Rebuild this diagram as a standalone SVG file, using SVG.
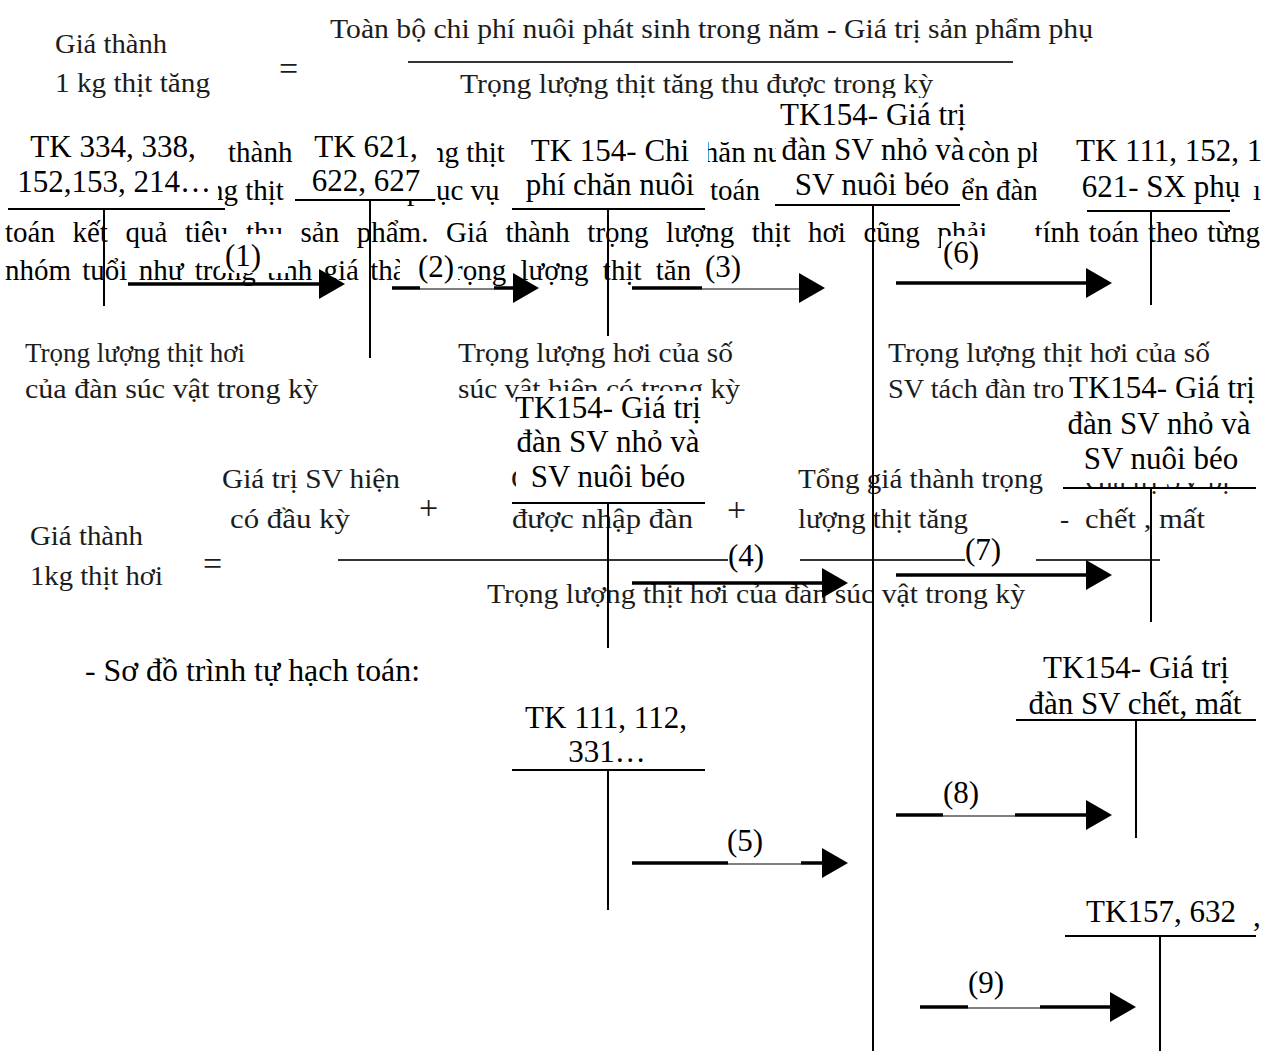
<svg xmlns="http://www.w3.org/2000/svg" width="1265" height="1051" viewBox="0 0 1265 1051">
<style>
text{font-family:"Liberation Serif","Times New Roman",serif;fill:#000}
.fm{font-size:27.5px;fill:#1c1c1c}
.op{font-size:34px;fill:#1c1c1c}
.pa{font-size:29px}
.lb{font-size:31px}
.c{text-anchor:middle}
.e{text-anchor:end}
.fl{stroke:#333;stroke-width:2}
.tl{stroke:#000;stroke-width:2;fill:none}
.ar{stroke:#000;stroke-width:3.5}
.th{stroke:#000;stroke-width:1.2}
.wb{fill:#fff}
.hd{fill:#000}
</style>
<rect width="1265" height="1051" fill="#fff"/>

<g id="formula1">
<text class="fm" x="55" y="53" textLength="112" lengthAdjust="spacingAndGlyphs">Giá thành</text>
<text class="fm" x="55" y="92" textLength="155" lengthAdjust="spacingAndGlyphs">1 kg thịt tăng</text>
<text class="op" x="279" y="80">=</text>
<text class="fm" x="330" y="38" textLength="763" lengthAdjust="spacingAndGlyphs">Toàn bộ chi phí nuôi phát sinh trong năm - Giá trị sản phẩm phụ</text>
<line class="fl" x1="408" y1="62" x2="1013" y2="62"/>
<text class="fm" x="460" y="93" textLength="473" lengthAdjust="spacingAndGlyphs">Trọng lượng thịt tăng thu được trong kỳ</text>
</g>

<g id="paragraph">
<text class="pa" x="228" y="162">thành</text>
<text class="pa" x="430" y="162">ng thịt</text>
<text class="pa" x="691" y="162">chăn nuôi</text>
<text class="pa" x="968" y="162">còn phải</text>
<text class="pa" x="209" y="200">ng thịt</text>
<text class="pa" x="407" y="200">phục vụ</text>
<text class="pa" x="710" y="200">toán</text>
<text class="pa" x="905" y="200">chuyển đàn</text>
<text class="pa" x="1253" y="200">ı</text>
<text class="pa" x="5" y="242" word-spacing="10.3">toán kết quả tiêu thụ sản phẩm. Giá thành trọng lượng thịt hơi cũng phải</text>
<text class="pa e" x="1260" y="242" word-spacing="2">tính toán theo từng</text>
<text class="pa" x="5" y="280" word-spacing="4">nhóm tuổi như trong tính giá thành</text>
<text class="pa" x="445" y="280" word-spacing="7">trọng lượng thịt tăng</text>
</g>

<g id="formula2">
<text class="fm" x="25" y="362" textLength="220" lengthAdjust="spacingAndGlyphs">Trọng lượng thịt hơi</text>
<text class="fm" x="25" y="398" textLength="293" lengthAdjust="spacingAndGlyphs">của đàn súc vật trong kỳ</text>
<text class="fm" x="458" y="362" textLength="275" lengthAdjust="spacingAndGlyphs">Trọng lượng hơi của số</text>
<text class="fm" x="458" y="398" textLength="282" lengthAdjust="spacingAndGlyphs">súc vật hiện có trong kỳ</text>
<text class="fm" x="888" y="362" textLength="322" lengthAdjust="spacingAndGlyphs">Trọng lượng thịt hơi của số</text>
<text class="fm" x="888" y="398" textLength="240" lengthAdjust="spacingAndGlyphs">SV tách đàn trong kỳ</text>
<text class="fm" x="222" y="488" textLength="178" lengthAdjust="spacingAndGlyphs">Giá trị SV hiện</text>
<text class="fm" x="230" y="528" textLength="120" lengthAdjust="spacingAndGlyphs">có đầu kỳ</text>
<text class="op" x="419" y="519">+</text>
<text class="fm" x="511" y="488" textLength="120" lengthAdjust="spacingAndGlyphs">Giá trị SV</text>
<text class="fm" x="512" y="528" textLength="181" lengthAdjust="spacingAndGlyphs">được nhập đàn</text>
<text class="op" x="727" y="521">+</text>
<text class="fm" x="798" y="488" textLength="245" lengthAdjust="spacingAndGlyphs">Tổng giá thành trọng</text>
<text class="fm" x="798" y="528" textLength="170" lengthAdjust="spacingAndGlyphs">lượng thịt tăng</text>
<text class="fm" x="1060" y="528">-</text>
<text class="fm" x="1085" y="489" textLength="145" lengthAdjust="spacingAndGlyphs">Giá trị SV bị</text>
<text class="fm" x="1085" y="528" textLength="120" lengthAdjust="spacingAndGlyphs">chết , mất</text>
<text class="fm" x="30" y="545" textLength="113" lengthAdjust="spacingAndGlyphs">Giá thành</text>
<text class="fm" x="30" y="585" textLength="133" lengthAdjust="spacingAndGlyphs">1kg thịt hơi</text>
<text class="op" x="203" y="575">=</text>
<line class="fl" x1="338" y1="560" x2="728" y2="560"/>
<line class="fl" x1="800" y1="560" x2="965" y2="560"/>
<line class="fl" x1="1036" y1="560" x2="1160" y2="560"/>
<text class="fm" x="487" y="603" textLength="538" lengthAdjust="spacingAndGlyphs">Trọng lượng thịt hơi của đàn súc vật trong kỳ</text>
</g>

<text class="lb" x="85" y="681" textLength="335" lengthAdjust="spacingAndGlyphs">- Sơ đồ trình tự hạch toán:</text>

<g id="tk334">
<rect class="wb" x="8" y="128" width="210" height="80"/>
<text class="lb c" x="113" y="157">TK 334, 338,</text>
<text class="lb c" x="114" y="192">152,153, 214…</text>
<line class="tl" x1="8" y1="209" x2="225" y2="209"/>
<line class="tl" x1="104" y1="209" x2="104" y2="306"/>
</g>
<g id="tk621">
<rect class="wb" x="295" y="125" width="142" height="74"/>
<text class="lb c" x="366" y="157">TK 621,</text>
<text class="lb c" x="366" y="191">622, 627</text>
<line class="tl" x1="295" y1="200" x2="435" y2="200"/>
<line class="tl" x1="370" y1="200" x2="370" y2="358"/>
</g>
<g id="tk154chi">
<rect class="wb" x="512" y="132" width="196" height="76"/>
<text class="lb c" x="610" y="161">TK 154- Chi</text>
<text class="lb c" x="610" y="195">phí chăn nuôi</text>
<line class="tl" x1="512" y1="209" x2="705" y2="209"/>
<line class="tl" x1="608" y1="209" x2="608" y2="336"/>
</g>
<g id="tk154top">
<rect class="wb" x="776" y="98" width="186" height="106"/>
<text class="lb c" x="873" y="125">TK154- Giá trị</text>
<text class="lb c" x="873" y="160">đàn SV nhỏ và</text>
<text class="lb c" x="872" y="195">SV nuôi béo</text>
<line class="tl" x1="775" y1="205" x2="960" y2="205"/>
<line class="tl" x1="873" y1="205" x2="873" y2="1051"/>
</g>
<g id="tk111top">
<rect class="wb" x="1037" y="130" width="213" height="80"/>
<text class="lb" x="1076" y="161">TK 111, 152, 1</text>
<text class="lb c" x="1161" y="197">621- SX phụ</text>
<line class="tl" x1="1087" y1="211" x2="1230" y2="211"/>
<line class="tl" x1="1151" y1="211" x2="1151" y2="305"/>
</g>
<g id="tk154mid">
<rect class="wb" x="516" y="391" width="192" height="109"/>
<text class="lb c" x="608" y="418">TK154- Giá trị</text>
<text class="lb c" x="608" y="452">đàn SV nhỏ và</text>
<text class="lb c" x="608" y="487">SV nuôi béo</text>
<line class="tl" x1="512" y1="503" x2="705" y2="503"/>
<line class="tl" x1="608" y1="503" x2="608" y2="648"/>
</g>
<g id="tk154right">
<rect class="wb" x="1063" y="369" width="195" height="114"/>
<text class="lb c" x="1162" y="398">TK154- Giá trị</text>
<text class="lb c" x="1159" y="434">đàn SV nhỏ và</text>
<text class="lb c" x="1161" y="469">SV nuôi béo</text>
<line class="tl" x1="1063" y1="488" x2="1256" y2="488"/>
<line class="tl" x1="1151" y1="488" x2="1151" y2="622"/>
</g>
<g id="tk111bottom">
<rect class="wb" x="512" y="700" width="193" height="68"/>
<text class="lb c" x="606" y="728">TK 111, 112,</text>
<text class="lb c" x="607" y="762">331…</text>
<line class="tl" x1="512" y1="770" x2="705" y2="770"/>
<line class="tl" x1="608" y1="770" x2="608" y2="910"/>
</g>
<g id="tk154chet">
<rect class="wb" x="1016" y="645" width="240" height="73"/>
<text class="lb c" x="1136" y="678">TK154- Giá trị</text>
<text class="lb c" x="1135" y="714">đàn SV chết, mất</text>
<line class="tl" x1="1016" y1="720" x2="1256" y2="720"/>
<line class="tl" x1="1136" y1="720" x2="1136" y2="838"/>
</g>
<g id="tk157">
<rect class="wb" x="1065" y="890" width="185" height="44"/>
<text class="lb c" x="1161" y="922">TK157, 632</text>
<text class="lb" x="1253" y="926" font-size="22">,</text>
<line class="tl" x1="1065" y1="936" x2="1256" y2="936"/>
<line class="tl" x1="1160" y1="936" x2="1160" y2="1051"/>
</g>

<g id="labels">
<rect class="wb" x="220" y="234" width="68" height="39"/>
<text class="lb" x="225" y="266">(1)</text>
<rect class="wb" x="400" y="249" width="58" height="37"/>
<text class="lb" x="418" y="277">(2)</text>
<rect class="wb" x="690" y="250" width="58" height="36"/>
<text class="lb" x="705" y="277">(3)</text>
<rect class="wb" x="941" y="236" width="104" height="34"/>
<text class="lb" x="943" y="263">(6)</text>
<text class="lb" x="728" y="566">(4)</text>
<text class="lb" x="965" y="560">(7)</text>
<text class="lb" x="727" y="851">(5)</text>
<text class="lb" x="943" y="803">(8)</text>
<text class="lb" x="968" y="993">(9)</text>
</g>

<g id="connectors">
<line class="ar" x1="128" y1="284" x2="321" y2="284"/>
<polygon class="hd" points="345,284 319,269 319,299"/>

<line class="ar" x1="392" y1="288" x2="420" y2="288"/>
<line class="th" x1="420" y1="289" x2="494" y2="289"/>
<line class="ar" x1="494" y1="288" x2="515" y2="288"/>
<polygon class="hd" points="539,288 513,273 513,303"/>

<line class="ar" x1="632" y1="288" x2="702" y2="288"/>
<line class="th" x1="702" y1="289" x2="800" y2="289"/>
<polygon class="hd" points="825,288 799,273 799,303"/>

<line class="ar" x1="896" y1="283" x2="1088" y2="283"/>
<polygon class="hd" points="1112,283 1086,268 1086,298"/>

<line class="ar" x1="632" y1="583" x2="824" y2="583"/>
<polygon class="hd" points="848,583 822,568 822,598"/>

<line class="ar" x1="896" y1="575" x2="1088" y2="575"/>
<polygon class="hd" points="1112,575 1086,560 1086,590"/>

<line class="ar" x1="632" y1="863" x2="728" y2="863"/>
<line class="th" x1="728" y1="864" x2="801" y2="864"/>
<line class="ar" x1="801" y1="863" x2="824" y2="863"/>
<polygon class="hd" points="848,863 822,848 822,878"/>

<line class="ar" x1="896" y1="815" x2="943" y2="815"/>
<line class="th" x1="943" y1="816" x2="1015" y2="816"/>
<line class="ar" x1="1015" y1="815" x2="1088" y2="815"/>
<polygon class="hd" points="1112,815 1086,800 1086,830"/>

<line class="ar" x1="920" y1="1007" x2="968" y2="1007"/>
<line class="th" x1="968" y1="1008" x2="1040" y2="1008"/>
<line class="ar" x1="1040" y1="1007" x2="1112" y2="1007"/>
<polygon class="hd" points="1136,1007 1110,992 1110,1022"/>
</g>
</svg>
